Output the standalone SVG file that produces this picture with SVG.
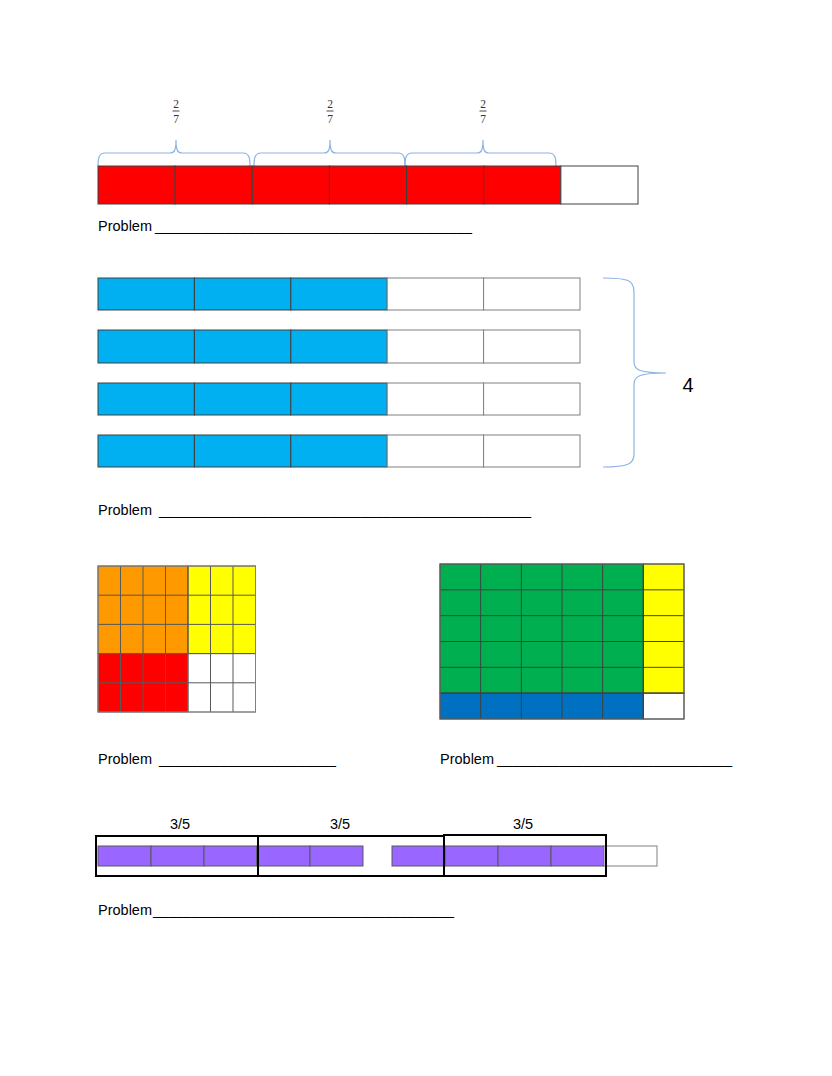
<svg xmlns="http://www.w3.org/2000/svg" width="832" height="1076" viewBox="0 0 832 1076">
<style>
.t{font-family:"Liberation Sans",Arial,sans-serif;font-size:14.5px;fill:#000}
.u{font-family:"Liberation Sans",Arial,sans-serif;font-size:14.5px;fill:#000}
.fr{font-family:"Liberation Serif","Times New Roman",serif;font-size:11.5px;fill:#333;text-anchor:middle}
.br{fill:none;stroke:#8DB3E2;stroke-width:1.2}
.dk{stroke:#404040;stroke-width:1}
.gy{stroke:#808080;stroke-width:1}
.red{fill:#FF0000}
.wh{fill:#FFFFFF}
.blu{fill:#00B0F0}
.org{fill:#FF9900}
.yel{fill:#FFFF00}
.grn{fill:#00B050}
.dbl{fill:#0070C0}
.pur{fill:#9966FF}
.box{fill:none;stroke:#000;stroke-width:2}
</style>
<rect width="832" height="1076" fill="#fff"/>

<g id="section1">
  <g id="fractions-2-7">
    <text class="fr" x="176" y="108">2</text><line x1="172.5" y1="111" x2="179.5" y2="111" stroke="#333" stroke-width="0.9"/><text class="fr" x="176" y="122.5">7</text>
    <text class="fr" x="330" y="108">2</text><line x1="326.5" y1="111" x2="333.5" y2="111" stroke="#333" stroke-width="0.9"/><text class="fr" x="330" y="122.5">7</text>
    <text class="fr" x="483" y="108">2</text><line x1="479.5" y1="111" x2="486.5" y2="111" stroke="#333" stroke-width="0.9"/><text class="fr" x="483" y="122.5">7</text>
  </g>
  <g id="braces-top">
    <path class="br" d="M98,166 C98,158 99,153 105,153 H170 C174,153 176,151 176,140 C176,151 178,153 182,153 H243 C249,153 250,158 250,166"/>
    <path class="br" d="M254,166 C254,158 255,153 261,153 H324 C328,153 330,151 330,140 C330,151 332,153 336,153 H398 C404,153 405,158 405,166"/>
    <path class="br" d="M405,166 C405,158 406,153 412,153 H477 C481,153 483,151 483,140 C483,151 485,153 489,153 H549 C555,153 556,158 556,166"/>
  </g>
  <g id="bar-sevenths">
    <rect class="red dk" x="98" y="166" width="77.14" height="38"/>
    <rect class="red dk" x="175.14" y="166" width="77.14" height="38"/>
    <rect class="red dk" x="252.29" y="166" width="77.14" height="38"/>
    <rect class="red dk" x="329.43" y="166" width="77.14" height="38"/>
    <rect class="red dk" x="406.57" y="166" width="77.14" height="38"/>
    <rect class="red dk" x="483.71" y="166" width="77.14" height="38"/>
    <rect class="wh dk" x="560.86" y="166" width="77.14" height="38"/>
  </g>
  <g id="problem1">
    <text class="t" x="98" y="231">Problem</text>
    <text class="u" x="155" y="231" textLength="317" lengthAdjust="spacingAndGlyphs">_________________________________________</text>
  </g>
</g>

<g id="section2">
  <g id="blue-bars">
    <g id="bar-a">
      <rect class="blu dk" x="98" y="278" width="96.4" height="32"/>
      <rect class="blu dk" x="194.4" y="278" width="96.4" height="32"/>
      <rect class="blu dk" x="290.8" y="278" width="96.4" height="32"/>
      <rect class="wh gy" x="387.2" y="278" width="96.4" height="32"/>
      <rect class="wh gy" x="483.6" y="278" width="96.4" height="32"/>
    </g>
    <g id="bar-b">
      <rect class="blu dk" x="98" y="330" width="96.4" height="33"/>
      <rect class="blu dk" x="194.4" y="330" width="96.4" height="33"/>
      <rect class="blu dk" x="290.8" y="330" width="96.4" height="33"/>
      <rect class="wh gy" x="387.2" y="330" width="96.4" height="33"/>
      <rect class="wh gy" x="483.6" y="330" width="96.4" height="33"/>
    </g>
    <g id="bar-c">
      <rect class="blu dk" x="98" y="383" width="96.4" height="32"/>
      <rect class="blu dk" x="194.4" y="383" width="96.4" height="32"/>
      <rect class="blu dk" x="290.8" y="383" width="96.4" height="32"/>
      <rect class="wh gy" x="387.2" y="383" width="96.4" height="32"/>
      <rect class="wh gy" x="483.6" y="383" width="96.4" height="32"/>
    </g>
    <g id="bar-d">
      <rect class="blu dk" x="98" y="435" width="96.4" height="32"/>
      <rect class="blu dk" x="194.4" y="435" width="96.4" height="32"/>
      <rect class="blu dk" x="290.8" y="435" width="96.4" height="32"/>
      <rect class="wh gy" x="387.2" y="435" width="96.4" height="32"/>
      <rect class="wh gy" x="483.6" y="435" width="96.4" height="32"/>
    </g>
  </g>
  <g id="brace-four">
    <path class="br" d="M603,278 C628,278 634,280 634,292 V362 C634,370 640,373 666,373 C640,373 634,376 634,384 V454 C634,464 628,467 603,467"/>
    <text x="688" y="392" font-family="'Liberation Sans',Arial,sans-serif" font-size="20" text-anchor="middle" fill="#000">4</text>
  </g>
  <g id="problem2">
    <text class="t" x="98" y="515">Problem</text>
    <text class="u" x="159" y="515" textLength="372" lengthAdjust="spacingAndGlyphs">________________________________________________</text>
  </g>
</g>

<g id="section3">
  <g id="grid-orange" stroke="#595959" stroke-width="1">
    <rect class="org" x="98" y="566" width="90" height="87.6"/>
    <rect class="yel" x="188" y="566" width="67.5" height="87.6"/>
    <rect class="red" x="98" y="653.6" width="90" height="58.4"/>
    <rect class="wh" x="188" y="653.6" width="67.5" height="58.4" stroke="#808080"/>
    <path fill="none" d="M120.5,566V712M143,566V712M165.5,566V712M188,566V712M210.5,566V712M233,566V712M98,595.2H255.5M98,624.4H255.5M98,653.6H255.5M98,682.8H255.5"/>
    <rect fill="none" x="98" y="566" width="157.5" height="146" stroke="#808080"/>
  </g>
  <g id="grid-green" stroke="#404040" stroke-width="1">
    <rect class="grn" x="440" y="564" width="203.33" height="129.17"/>
    <rect class="yel" x="643.33" y="564" width="40.67" height="129.17"/>
    <rect class="dbl" x="440" y="693.17" width="203.33" height="25.83"/>
    <rect class="wh" x="643.33" y="693.17" width="40.67" height="25.83"/>
    <path fill="none" d="M480.67,564V719M521.33,564V719M562,564V719M602.67,564V719M643.33,564V719M440,589.83H684M440,615.67H684M440,641.5H684M440,667.33H684M440,693.17H684"/>
    <rect fill="none" x="440" y="564" width="244" height="155" stroke="#666"/>
  </g>
  <g id="problem3">
    <text class="t" x="98" y="764">Problem</text>
    <text class="u" x="159" y="764" textLength="177" lengthAdjust="spacingAndGlyphs">_______________________</text>
  </g>
  <g id="problem4">
    <text class="t" x="440" y="764">Problem</text>
    <text class="u" x="497" y="764" textLength="235" lengthAdjust="spacingAndGlyphs">______________________________</text>
  </g>
</g>

<g id="section4">
  <g id="labels-3-5">
    <text class="t" x="180" y="829" text-anchor="middle">3/5</text>
    <text class="t" x="340" y="829" text-anchor="middle">3/5</text>
    <text class="t" x="523" y="829" text-anchor="middle">3/5</text>
  </g>
  <g id="purple-bar" stroke="#595959" stroke-width="1">
    <rect class="pur" x="98" y="846" width="53" height="20"/>
    <rect class="pur" x="151" y="846" width="53" height="20"/>
    <rect class="pur" x="204" y="846" width="53" height="20"/>
    <rect class="pur" x="257" y="846" width="53" height="20"/>
    <rect class="pur" x="310" y="846" width="53" height="20"/>
    <rect class="pur" x="392" y="846" width="53" height="20"/>
    <rect class="pur" x="445" y="846" width="53" height="20"/>
    <rect class="pur" x="498" y="846" width="53" height="20"/>
    <rect class="pur" x="551" y="846" width="53" height="20"/>
    <rect class="wh" x="604" y="846" width="53" height="20" stroke="#808080"/>
  </g>
  <g id="group-boxes">
    <rect class="box" x="96" y="836" width="162" height="40"/>
    <rect class="box" x="258" y="836" width="186" height="40"/>
    <rect class="box" x="444" y="835" width="162" height="41"/>
  </g>
  <g id="problem5">
    <text class="t" x="98" y="915">Problem</text>
    <text class="u" x="153" y="915" textLength="301" lengthAdjust="spacingAndGlyphs">_______________________________________</text>
  </g>
</g>
</svg>
